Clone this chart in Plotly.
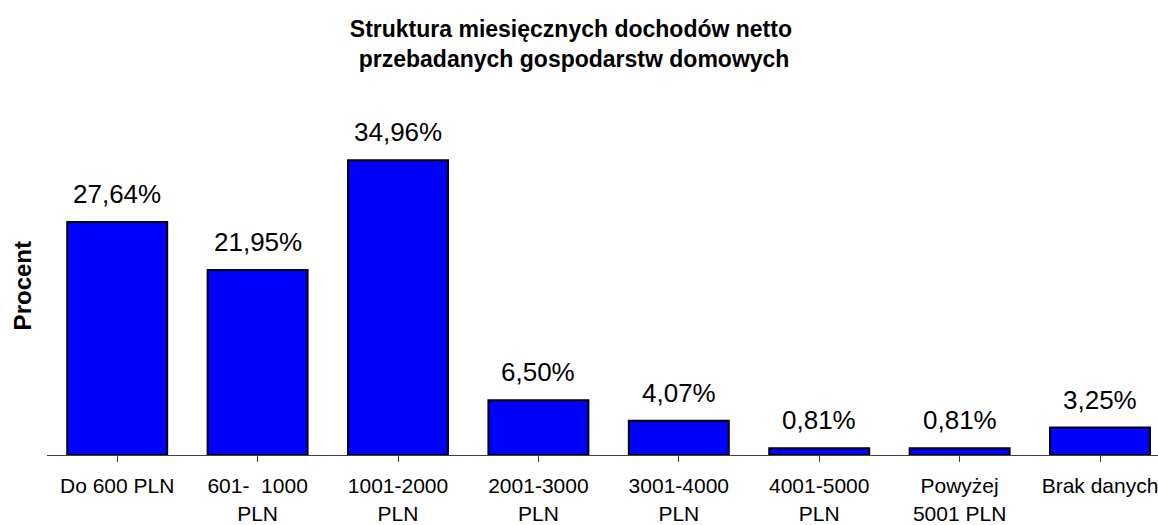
import plotly.graph_objects as go

# categories and values
categories = ["Do 600 PLN", "601-  1000<br>PLN", "1001-2000<br>PLN", "2001-3000<br>PLN",
              "3001-4000<br>PLN", "4001-5000<br>PLN", "Powyżej<br>5001 PLN", "Brak danych"]
percent = [27.64, 21.95, 34.96, 6.50, 4.07, 0.81, 0.81, 3.25]
labels = [f"{v:.2f}%".replace(".", ",") for v in percent]

font = "Liberation Sans, Arial, sans-serif"
xs = list(range(len(categories)))

fig = go.Figure()
fig.add_trace(go.Bar(
    x=xs, y=percent,
    marker=dict(color="#0000FF", line=dict(color="black", width=2)),
))

# value labels above the bars
for x, v, t in zip(xs, percent, labels):
    fig.add_annotation(x=x, y=v, text=t, showarrow=False, yanchor="middle", yshift=28,
                       font=dict(size=26, family=font, color="black"))

fig.update_layout(
    width=1158, height=525,
    margin=dict(l=47, r=0, t=100, b=67),
    paper_bgcolor="white", plot_bgcolor="white",
    bargap=0.288, showlegend=False,
    font=dict(family=font, color="black"),
    title=dict(text="<b>Struktura miesięcznych dochodów netto<br> przebadanych gospodarstw domowych</b>",
               x=0.493, xanchor="center", y=0.93, yanchor="top",
               font=dict(size=23, family=font, color="black")),
)

fig.update_xaxes(
    tickmode="array", tickvals=xs, ticktext=categories,
    range=[-0.5, 7.413], showline=True, linecolor="#404040", linewidth=1,
    ticks="outside", tickson="boundaries", ticklen=6, tickcolor="#404040",
    tickfont=dict(size=21, family=font, color="black"), ticklabelstandoff=6,
    ticklabeloverflow="allow", showgrid=False, zeroline=False,
)
fig.update_yaxes(range=[0, 42.1], visible=False, showgrid=False)

fig.add_annotation(text="<b>Procent</b>", textangle=-90, xref="paper", yref="paper",
                   x=0, xshift=-25, xanchor="center", y=0.475, showarrow=False,
                   font=dict(size=24, family=font, color="black"))

# drop the default page margin so the figure fills the window exactly
fig.write_html("out.html", config={"displayModeBar": False},
               post_script="document.body.style.margin='0';document.body.style.overflow='hidden';")
